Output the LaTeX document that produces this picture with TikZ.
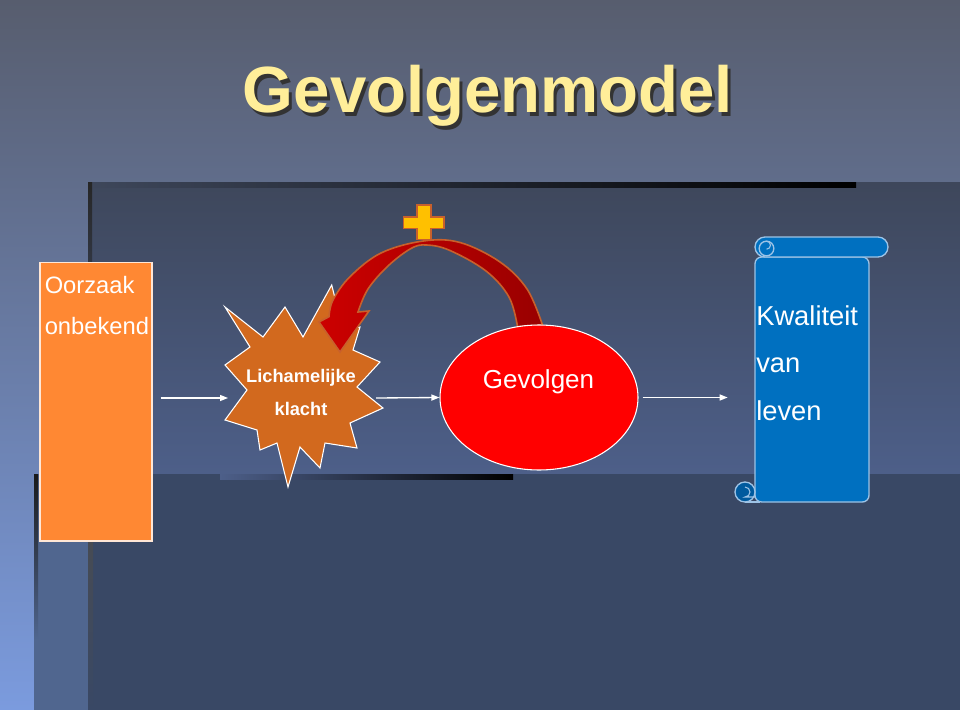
\documentclass[tikz,border=0pt]{standalone}
\usepackage{fontspec}
\setmainfont{Liberation Sans}
\usetikzlibrary{shapes.geometric, arrows.meta, positioning}
\definecolor{bgtop}{HTML}{575D6E}
\definecolor{bgbot}{HTML}{7B9BDE}
\definecolor{pnltop}{HTML}{3E475B}
\definecolor{pnlbot}{HTML}{4D5F89}
\definecolor{pnlmid}{HTML}{50668F}
\definecolor{pnllow}{HTML}{394865}
\definecolor{titelgeel}{HTML}{FFEE99}
\definecolor{oranje}{HTML}{FF8833}
\definecolor{roest}{HTML}{D2691E}
\definecolor{rolblauw}{HTML}{0070C0}
\definecolor{roldonker}{HTML}{005A9E}
\definecolor{rolrand}{HTML}{9DC3E6}
\definecolor{boogrood}{HTML}{CC0000}
\definecolor{boogdonker}{HTML}{990000}
\definecolor{boogrand}{HTML}{C8602C}
\definecolor{plusgeel}{HTML}{FFC000}
\tikzset{flow/.style={draw=white, line width=1pt, -{Triangle[length=6pt,width=4.5pt]}},
	tekst/.style={text=white, inner sep=0pt},
	rolvorm/.style={fill=rolblauw, draw=rolrand, line width=1pt}}

\begin{document}
\begin{tikzpicture}[x=0.75pt, y=-0.75pt]
		\useasboundingbox (0,0) rectangle (960,710);
		\shade[top color=bgtop, bottom color=bgbot] (0,0) rectangle (960,710);
		\shade[top color=pnltop, bottom color=pnlbot] (88,182) rectangle (960,474);
		\shade[left color=pnltop, right color=black] (88,182) rectangle (856,187);
		\shade[top color=black!85, bottom color=pnlbot] (88,182) rectangle (92,474);
		\fill[pnlmid] (34,474) rectangle (960,710);
		\fill[pnllow] (88,474) rectangle (960,710);
		\shade[top color=black!90, bottom color=pnlmid] (34,474) rectangle (38,640);
		\shade[top color=black!70, bottom color=pnllow] (88,474) rectangle (93,710);
		\shade[left color=pnlbot, right color=black] (220,474) rectangle (513,479);
		\node[anchor=base, text=black!80, font=\bfseries\fontsize{49}{56}\selectfont] (titelschaduw) at (491,116) {Gevolgenmodel};
		\node[anchor=base, text=titelgeel, font=\bfseries\fontsize{49}{56}\selectfont] (titel) at (488,113) {Gevolgenmodel};
		\node[fill=oranje, draw=white!80!oranje, line width=1pt, minimum width=84pt, minimum height=209pt] (oorzaak) at (96,401.5) {};
		\node[tekst, anchor=north west, align=left, font=\fontsize{17.8}{30.75}\selectfont] (oorzaaktekst) at (44.5,276.5) {Oorzaak\\onbekend};
		\draw[fill=roest, draw=white, line width=0.8pt] (331.7,285) -- (343,330) -- (360,327) -- (353,350) -- (380,362) -- (357,387) -- (383,408) -- (350,423) -- (357,448) -- (325,443) -- (320,468) -- (300,447) -- (288,487) -- (277,443) -- (260,450) -- (257,430) -- (225,420) -- (247,390) -- (225,365) -- (250,347) -- (225,307) -- (263,337) -- (285,307) -- (303,337) -- cycle;
		\node[tekst, anchor=north, align=center, font=\bfseries\fontsize{13.7}{25}\selectfont] (klacht) at (301,368.6) {Lichamelijke\\klacht};
		\coordinate (klacht-in) at (228,398);
		\coordinate (klacht-uit) at (376,398);
		\draw[draw=boogrand, line width=1.2pt, left color=boogrood, right color=boogdonker] plot[smooth, tension=0.6] coordinates {(542.5,325) (527,289) (500,262) (460,242.5) (423.3,241) (381,253) (350,276.7) (333,300) (329,316.7)} -- (319,322) -- (340,352) -- (369,311) -- (358,312) -- plot[smooth, tension=0.6] coordinates {(358,312) (368,289) (388,266) (411,248.5) (426.7,245) (450,250.5) (486,271) (509,297) (517.5,326.7)} -- cycle;
		\draw[fill=plusgeel, draw=boogrand, line width=1.2pt] (416.7,205) -- (430.7,205) -- (430.7,216.7) -- (444,216.7) -- (444,228.3) -- (430.7,228.3) -- (430.7,239.3) -- (416.7,239.3) -- (416.7,228.3) -- (403.3,228.3) -- (403.3,216.7) -- (416.7,216.7) -- cycle;
		\node[ellipse, fill=red, draw=white, line width=0.8pt, minimum width=148.5pt, minimum height=108.75pt] (gevolgen) at (539,397.5) {};
		\node[tekst, anchor=base, font=\fontsize{19.5}{24}\selectfont] (gevolgentekst) at (538.5,388.3) {Gevolgen};
		\node[rolvorm, rounded corners=5pt, minimum width=85.5pt, minimum height=183.75pt] (rol) at (812,379.5) {};
		\draw[rolvorm, rounded corners=7.5pt] (755,237) rectangle (888,257);
		\draw[rolvorm] (766.5,248.5) circle[radius=5.5pt];
		\draw[rolrand, line width=0.8pt] (766.5,241.2) arc[start angle=90, end angle=-90, radius=3pt];
		\draw[rolrand, line width=1pt] (745,502) -- (760,502);
		\draw[rolvorm, fill=roldonker] (745,492) circle[radius=7.5pt];
		\draw[rolrand, line width=0.8pt] (745,487) arc[start angle=90, end angle=-90, radius=3.75pt] -- (755,497);
		\node[tekst, anchor=north west, align=left, font=\fontsize{20.5}{35.9}\selectfont] (kwaliteit) at (756,305) {Kwaliteit\\van\\leven};
		\draw[flow, shorten <=6pt] (oorzaak.east |- klacht-in) -- (klacht-in);
		\draw[flow] (klacht-uit) -- (gevolgen.west);
		\draw[flow, shorten <=3pt, shorten >=20pt] (gevolgen.east) -- (rol.west |- gevolgen.east);
	\end{tikzpicture}
\end{document}
